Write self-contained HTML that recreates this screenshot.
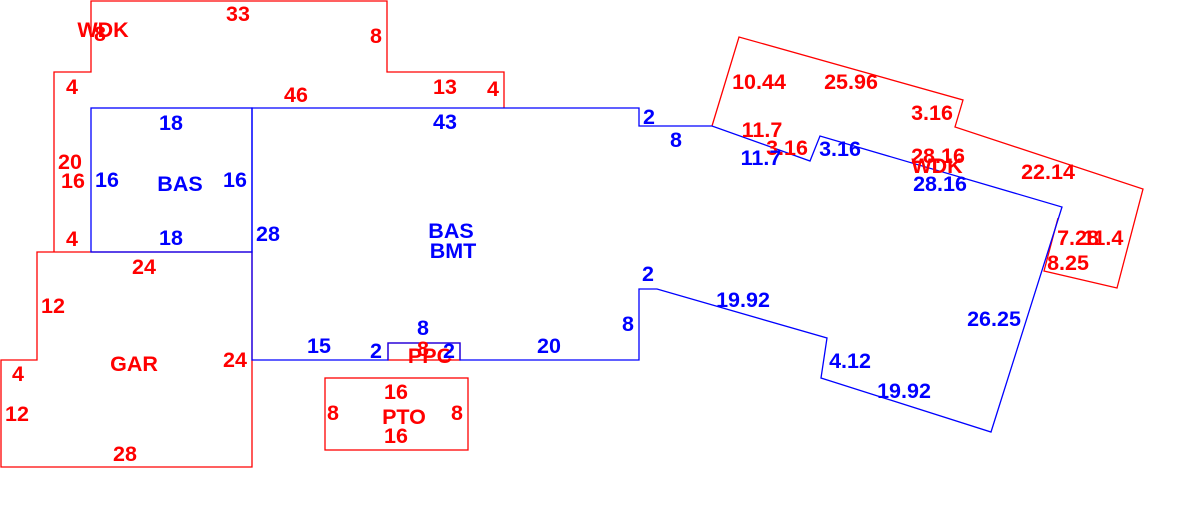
<!DOCTYPE html>
<html><head><meta charset="utf-8"><style>
html,body{margin:0;padding:0;background:#fff;}
svg{display:block;}
text{font-family:"Liberation Sans",Arial,sans-serif;font-weight:bold;font-size:21.5px;text-anchor:middle;dominant-baseline:central;}
.r{fill:#f00;} .b{fill:#00f;}
</style></head><body>
<svg width="1193" height="518" viewBox="0 0 1193 518" xmlns="http://www.w3.org/2000/svg">
<g fill="none" stroke="#f00" stroke-width="1.3">
<polyline points="54,252 54,72 91,72 91,1 387,1 387,72 504,72 504,108"/>
<polygon points="37,252 252,252 252,467 1,467 1,360 37,360"/>
<rect x="325" y="378" width="143" height="72"/>
<rect x="388" y="343" width="72" height="17"/>
<polyline points="712,126 739,37 963,100 955,127 1143,189 1117,288 1044,271 1058,218"/>
</g>
<g fill="none" stroke="#00f" stroke-width="1.3">
<rect x="91" y="108" width="161" height="144"/>
<polygon points="252,108 639,108 639,126 712,126 810,161 820,136 1062,207 991,432 821,378 827,338 657,289 639,289 639,360 460,360 460,343 388,343 388,360 252,360"/>
</g>
<g class="r">
<text x="103" y="30">WDK</text><text x="100" y="34">8</text>
<text x="238" y="14">33</text><text x="376" y="36">8</text>
<text x="72" y="87">4</text><text x="296" y="95">46</text>
<text x="445" y="87">13</text><text x="493" y="89">4</text>
<text x="70" y="162">20</text><text x="73" y="181">16</text>
<text x="72" y="239">4</text><text x="144" y="267">24</text>
<text x="53" y="306">12</text><text x="134" y="364">GAR</text>
<text x="235" y="360">24</text><text x="18" y="374">4</text>
<text x="17" y="414">12</text><text x="125" y="454">28</text>
<text x="396" y="392">16</text><text x="333" y="413">8</text>
<text x="404" y="417">PTO</text><text x="457" y="413">8</text>
<text x="396" y="436">16</text>
<text x="423" y="349">8</text><text x="430" y="356">PPC</text>
<text x="759" y="82">10.44</text><text x="851" y="82">25.96</text>
<text x="932" y="113">3.16</text>
<text x="762" y="130">11.7</text><text x="787" y="148">3.16</text>
<text x="938" y="156">28.16</text><text x="937" y="166">WDK</text>
<text x="1048" y="172">22.14</text>
<text x="1078" y="238">7.28</text><text x="1103" y="238">11.4</text>
<text x="1068" y="263">8.25</text>
</g>
<g class="b">
<text x="171" y="123">18</text><text x="107" y="180">16</text>
<text x="180" y="184">BAS</text><text x="235" y="180">16</text>
<text x="171" y="238">18</text><text x="268" y="234">28</text>
<text x="445" y="122">43</text><text x="649" y="117">2</text>
<text x="676" y="140">8</text><text x="761" y="158">11.7</text>
<text x="840" y="149">3.16</text><text x="940" y="184">28.16</text>
<text x="451" y="231">BAS</text><text x="453" y="251">BMT</text>
<text x="648" y="274">2</text><text x="743" y="300">19.92</text>
<text x="628" y="324">8</text><text x="994" y="319">26.25</text>
<text x="319" y="346">15</text><text x="376" y="351">2</text>
<text x="423" y="328">8</text><text x="449" y="351">2</text>
<text x="549" y="346">20</text><text x="850" y="361">4.12</text>
<text x="904" y="391">19.92</text>
</g>
</svg>
</body></html>
